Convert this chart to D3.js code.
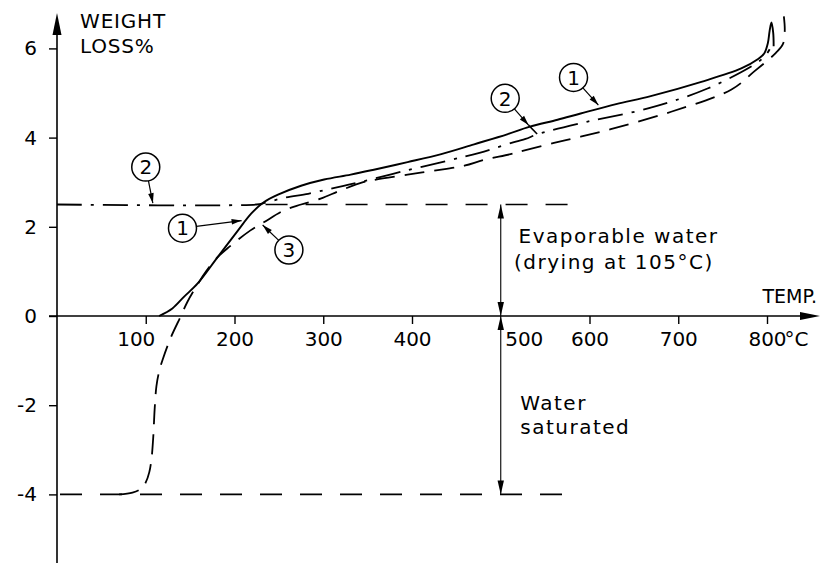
<!DOCTYPE html>
<html><head><meta charset="utf-8">
<script src="https://cdn.jsdelivr.net/npm/d3@7"></script>
<style>
body{margin:0;background:#fff}
svg{display:block}
text{font-family:"DejaVu Sans",sans-serif;fill:#000}
</style>
</head><body>
<svg id="c" width="824" height="563"></svg>
<script>
// ---------- data ----------
const tempTicks = [100, 200, 300, 400, 500, 600, 700, 800];
const lossTicks = [-4, -2, 0, 2, 4, 6];

// curve 1 (solid)
const curve1Temp = [115,130,143,158.5,181,204,219,233,249,275,301,331,357,395,433,470,508,532,564,590,630,669,726,771,790,797,801,803,805,807,807.5];
const curve1Loss = [0,0.17,0.43,0.73,1.32,1.92,2.3,2.55,2.72,2.92,3.06,3.17,3.28,3.45,3.63,3.85,4.08,4.24,4.40,4.54,4.75,4.93,5.25,5.55,5.76,5.89,6.12,6.4,6.58,6.35,6.05];
// curve 2 (dash-dot)
const curve2Temp = [0,225,233,256,283,305,323,345,393,444,476,517,528,542,598,667,733,789,799,803];
const curve2Loss = [2.5,2.5,2.53,2.65,2.74,2.84,2.92,3.02,3.26,3.5,3.66,3.91,3.97,4.08,4.36,4.66,5.1,5.68,5.86,5.98];
// curve 3 (dashed)
const curve3Temp = [70,85,95,100,104,106.5,108.5,110,112,115,119,128.5,139.6,147,156.6,168,181,194,218,233,256,275,297,320,345,357,395,425,459,481,511,528,560,590,624,692,760,786,810,818,820,819];
const curve3Loss = [-4,-3.96,-3.87,-3.73,-3.5,-3.2,-2.7,-2.1,-1.58,-1.25,-0.98,-0.47,0,0.32,0.65,1.0,1.32,1.55,1.92,2.1,2.37,2.5,2.63,2.82,3.0,3.05,3.17,3.26,3.37,3.5,3.63,3.72,3.88,4.02,4.19,4.58,5.08,5.49,5.9,6.1,6.4,6.72];

// reference levels
const evaporableLevel = 2.5, evaporableFrom = 235, evaporableTo = 593;
const saturatedLevel = -4, saturatedFrom = 0, saturatedTo = 569;
const dimensionTemp = 500;

// circled curve markers
const markerLabels = ["2", "1", "3", "2", "1"];
const markerCenterTemp = [100, 141.4, 261.3, 505, 582];
const markerCenterLoss = [3.34, 1.97, 1.48, 4.88, 5.35];
const markerTipTemp = [108, 208, 231.7, 531.3, 610];
const markerTipLoss = [2.53, 2.14, 2.04, 4.28, 4.73];
const markerExtTemp = [null, null, null, 541, null];
const markerExtLoss = [null, null, null, 4.08, null];

// text labels
const textLabels = ["WEIGHT", "LOSS%", "Evaporable water", "(drying at 105°C)", "Water", "saturated"];
const textTemp = [26, 26, 520, 515, 522, 522];
const textLoss = [6.46, 5.9, 1.64, 1.06, -2.11, -2.65];

// ---------- chart ----------
const svg = d3.select("#c");
const W = 824, H = 563;
const x = d3.scaleLinear().domain([0, 800]).range([57, 767]);
const y = d3.scaleLinear().domain([0, 6]).range([316, 48.4]);

const lineGen = d3.line().x(d => x(d[0])).y(d => y(d[1])).curve(d3.curveCatmullRom.alpha(0.5));
const zip = (a, b) => a.map((v, i) => [v, b[i]]);

function arrowHead(g, tx, ty, angle, len, hw) {
  const c = Math.cos(angle), s = Math.sin(angle);
  const bx = tx - c * len, by = ty - s * len;
  const p = [[tx, ty], [bx - s * hw, by + c * hw], [bx + s * hw, by - c * hw]];
  g.append("path").attr("d", "M" + p.map(q => q.join(",")).join("L") + "Z").attr("fill", "#000");
}

// reference dashed lines
svg.append("line")
  .attr("x1", x(evaporableFrom)).attr("x2", x(evaporableTo))
  .attr("y1", y(evaporableLevel)).attr("y2", y(evaporableLevel))
  .attr("stroke", "#000").attr("stroke-width", 1.6).attr("stroke-dasharray", "22,18");
svg.append("line")
  .attr("x1", x(saturatedFrom) + 3).attr("x2", x(saturatedTo))
  .attr("y1", y(saturatedLevel)).attr("y2", y(saturatedLevel))
  .attr("stroke", "#000").attr("stroke-width", 1.6).attr("stroke-dasharray", "22,18");

// curves
svg.append("path").datum(zip(curve3Temp, curve3Loss)).attr("d", lineGen)
  .attr("fill", "none").attr("stroke", "#000").attr("stroke-width", 1.8).attr("stroke-dasharray", "20,10");
svg.append("path").datum(zip(curve2Temp, curve2Loss)).attr("d", lineGen)
  .attr("fill", "none").attr("stroke", "#000").attr("stroke-width", 1.8).attr("stroke-dasharray", "25,9,3,9");
svg.append("path").datum(zip(curve1Temp, curve1Loss)).attr("d", lineGen)
  .attr("fill", "none").attr("stroke", "#000").attr("stroke-width", 1.9);

// dimension arrows
const dim = svg.append("g");
const dx = x(dimensionTemp);
[[evaporableLevel, 0], [0, saturatedLevel]].forEach(([a, b]) => {
  dim.append("line").attr("x1", dx).attr("x2", dx).attr("y1", y(a)).attr("y2", y(b))
    .attr("stroke", "#000").attr("stroke-width", 1.1);
  arrowHead(dim, dx, y(a), -Math.PI / 2, 14, 3.2);
  arrowHead(dim, dx, y(b), Math.PI / 2, 14, 3.2);
});

// axes lines with arrows
const ax = svg.append("g");
const yTop = 13, yBottom = H, xLeft = x(0) - 8, xRight = 820;
ax.append("line").attr("x1", x(0)).attr("x2", x(0)).attr("y1", yBottom).attr("y2", yTop + 10)
  .attr("stroke", "#000").attr("stroke-width", 1.6);
arrowHead(ax, x(0), yTop, -Math.PI / 2, 22, 4.5);
ax.append("line").attr("x1", xLeft).attr("x2", xRight - 10).attr("y1", y(0)).attr("y2", y(0))
  .attr("stroke", "#000").attr("stroke-width", 1.6);
arrowHead(ax, xRight, y(0), 0, 20, 4);

// y axis ticks
const gy = svg.append("g").attr("transform", `translate(${x(0)},0)`)
  .call(d3.axisLeft(y).tickValues(lossTicks).tickSize(8).tickPadding(12).tickFormat(d => String(d)));
gy.select(".domain").remove();
gy.attr("font-size", 20).attr("font-family", "DejaVu Sans, sans-serif");
gy.selectAll(".tick line").attr("stroke-width", 1.4);
gy.selectAll(".tick text").attr("dy", "0.32em");

// x axis ticks
const gx = svg.append("g").attr("transform", `translate(0,${y(0)})`)
  .call(d3.axisBottom(x).tickValues(tempTicks).tickSize(8).tickPadding(8).tickFormat(d => String(d)));
gx.select(".domain").remove();
gx.attr("font-size", 20).attr("font-family", "DejaVu Sans, sans-serif");
gx.selectAll(".tick line").attr("stroke-width", 1.4);
gx.selectAll(".tick").filter(d => d === dimensionTemp).select("line").remove();
gx.selectAll(".tick text").attr("x", d => d === 100 ? -10 : d === 500 ? 23 : 0);
gx.selectAll(".tick").filter(d => d === 800).append("text")
  .attr("x", 17).attr("y", 16).attr("dy", "0.71em").attr("text-anchor", "start")
  .attr("fill", "#000").text("°C");

// TEMP. label
svg.append("text").attr("x", 817).attr("y", y(0) - 13).attr("text-anchor", "end")
  .attr("font-size", 19).text("TEMP.");

// text labels
textLabels.forEach((t, i) => {
  svg.append("text").attr("x", x(textTemp[i])).attr("y", y(textLoss[i]))
    .attr("font-size", 20).attr("letter-spacing", i < 2 ? 0.8 : 1.5).text(t);
});

// circled markers
const mk = svg.append("g");
markerLabels.forEach((lab, i) => {
  const cx = x(markerCenterTemp[i]), cy = y(markerCenterLoss[i]);
  const tx = x(markerTipTemp[i]), ty = y(markerTipLoss[i]);
  const r = 14;
  const ang = Math.atan2(ty - cy, tx - cx);
  mk.append("circle").attr("cx", cx).attr("cy", cy).attr("r", r)
    .attr("fill", "#fff").attr("stroke", "#000").attr("stroke-width", 1.5);
  mk.append("text").attr("x", cx).attr("y", cy).attr("dy", "0.36em").attr("text-anchor", "middle")
    .attr("font-size", 20).text(lab);
  mk.append("line").attr("x1", cx + Math.cos(ang) * r).attr("y1", cy + Math.sin(ang) * r)
    .attr("x2", tx).attr("y2", ty).attr("stroke", "#000").attr("stroke-width", 1.2);
  arrowHead(mk, tx, ty, ang, 10, 2.8);
  if (markerExtTemp[i] !== null) {
    mk.append("line").attr("x1", tx).attr("y1", ty)
      .attr("x2", x(markerExtTemp[i])).attr("y2", y(markerExtLoss[i]))
      .attr("stroke", "#000").attr("stroke-width", 1.6);
  }
});
</script>
</body></html>
